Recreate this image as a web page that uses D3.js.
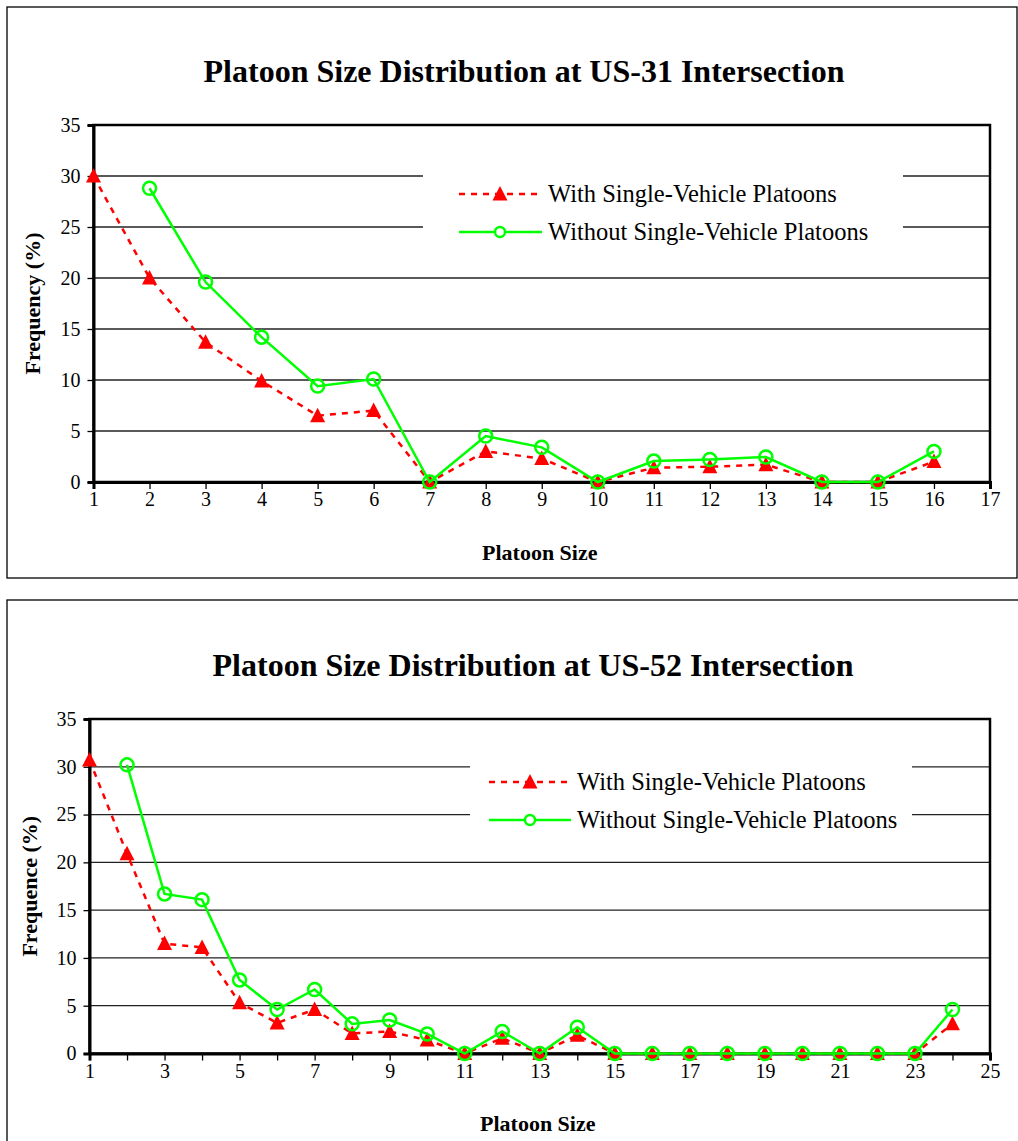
<!DOCTYPE html>
<html>
<head>
<meta charset="utf-8">
<script src="https://cdn.jsdelivr.net/npm/d3@7"></script>
<style>
  html, body { margin: 0; padding: 0; background: #fff; }
  svg { display: block; font-family: "Liberation Serif", "Times New Roman", serif; }
</style>
</head>
<body>
<svg id="chart" width="1018" height="1141"></svg>
<script>
// ---------- DATA ----------
const seriesNames = ["With Single-Vehicle Platoons", "Without Single-Vehicle Platoons"];

// US-31 intersection
const us31Title = "Platoon Size Distribution at US-31 Intersection";
const us31YLabel = "Frequency (%)";
const us31SizesWith = [1, 2, 3, 4, 5, 6, 7, 8, 9, 10, 11, 12, 13, 14, 15, 16];
const us31With = [30.0, 20.0, 13.7, 9.9, 6.5, 7.0, 0, 3.0, 2.3, 0, 1.4, 1.5, 1.7, 0, 0, 2.0];
const us31SizesWithout = [2, 3, 4, 5, 6, 7, 8, 9, 10, 11, 12, 13, 14, 15, 16];
const us31Without = [28.8, 19.6, 14.2, 9.4, 10.1, 0, 4.5, 3.4, 0, 2.05, 2.2, 2.45, 0, 0, 3.0];
const us31XTicks = [1, 2, 3, 4, 5, 6, 7, 8, 9, 10, 11, 12, 13, 14, 15, 16, 17];
const us31XLabels = ["1","2","3","4","5","6","7","8","9","10","11","12","13","14","15","16","17"];

// US-52 intersection
const us52Title = "Platoon Size Distribution at US-52 Intersection";
const us52YLabel = "Frequence (%)";
const us52SizesWith = [1, 2, 3, 4, 5, 6, 7, 8, 9, 10, 11, 12, 13, 14, 15, 16, 17, 18, 19, 20, 21, 22, 23, 24];
const us52With = [30.7, 20.9, 11.5, 11.1, 5.3, 3.2, 4.6, 2.1, 2.3, 1.4, 0, 1.6, 0, 1.9, 0, 0, 0, 0, 0, 0, 0, 0, 0, 3.1];
const us52SizesWithout = [2, 3, 4, 5, 6, 7, 8, 9, 10, 11, 12, 13, 14, 15, 16, 17, 18, 19, 20, 21, 22, 23, 24];
const us52Without = [30.2, 16.7, 16.1, 7.7, 4.6, 6.7, 3.1, 3.5, 2.05, 0, 2.3, 0, 2.75, 0, 0, 0, 0, 0, 0, 0, 0, 0, 4.6];
const us52XTicks = [1, 2, 3, 4, 5, 6, 7, 8, 9, 10, 11, 12, 13, 14, 15, 16, 17, 18, 19, 20, 21, 22, 23, 24, 25];
const us52XLabels = ["1","","3","","5","","7","","9","","11","","13","","15","","17","","19","","21","","23","","25"];

const yTicks = [0, 5, 10, 15, 20, 25, 30, 35];
const xAxisLabel = "Platoon Size";

// ---------- DRAW ----------
const svg = d3.select("#chart");
const RED = "#ff0000", GREEN = "#00ff00";

function drawChart(cfg) {
  const g = svg.append("g");
  // outer frame
  g.append("rect")
    .attr("x", cfg.frame[0]).attr("y", cfg.frame[1])
    .attr("width", cfg.frame[2]).attr("height", cfg.frame[3])
    .attr("fill", "#fff").attr("stroke", "#000").attr("stroke-width", 1.3);

  const x = d3.scaleLinear().domain([cfg.xTicks[0], cfg.xTicks[cfg.xTicks.length - 1]]).range([cfg.left, cfg.right]);
  const y = d3.scaleLinear().domain([0, 35]).range([cfg.bottom, cfg.top]);

  // title
  g.append("text").attr("x", cfg.titleX).attr("y", cfg.titleY)
    .attr("text-anchor", "middle").attr("font-weight", "bold").attr("font-size", 32)
    .text(cfg.title);

  // gridlines (interrupted by legend box)
  const grid = g.append("g");
  yTicks.filter(t => t > 0 && t < 35).forEach(t => {
    const yy = y(t);
    const inLegend = yy > cfg.legend.top && yy < cfg.legend.bottom;
    const segs = inLegend ? [[cfg.left, cfg.legend.left], [cfg.legend.right, cfg.right]] : [[cfg.left, cfg.right]];
    segs.forEach(s => grid.append("line")
      .attr("x1", s[0]).attr("x2", s[1]).attr("y1", yy).attr("y2", yy)
      .attr("stroke", "#222").attr("stroke-width", 1.3));
  });

  // plot border (top / right)
  g.append("rect").attr("x", cfg.left).attr("y", cfg.top)
    .attr("width", cfg.right - cfg.left).attr("height", cfg.bottom - cfg.top)
    .attr("fill", "none").attr("stroke", "#000").attr("stroke-width", 2.5);

  // y axis
  const yAxis = d3.axisLeft(y).tickValues(yTicks).tickSize(6).tickPadding(7).tickFormat(d3.format("d"));
  const ya = g.append("g").attr("transform", `translate(${cfg.left},0)`).call(yAxis);
  ya.select(".domain").attr("stroke-width", 3);
  ya.selectAll(".tick line").attr("stroke-width", 1.3);
  ya.selectAll(".tick text").attr("font-size", 20).attr("font-family", "Liberation Serif").attr("fill", "#000");

  // x axis
  const xAxis = d3.axisBottom(x).tickValues(cfg.xTicks).tickSize(7).tickPadding(3)
    .tickFormat((d, i) => cfg.xLabels[i]);
  const xa = g.append("g").attr("transform", `translate(0,${cfg.bottom})`).call(xAxis);
  xa.select(".domain").attr("stroke-width", 3);
  xa.selectAll(".tick line").attr("stroke-width", 1.3);
  xa.selectAll(".tick text").attr("font-size", 20).attr("font-family", "Liberation Serif").attr("fill", "#000");

  // axis titles
  g.append("text").attr("x", (cfg.left + cfg.right) / 2 - 2).attr("y", cfg.xTitleY)
    .attr("text-anchor", "middle").attr("font-weight", "bold").attr("font-size", 22)
    .text(xAxisLabel);
  g.append("text").attr("transform", `translate(${cfg.yTitleX},${(cfg.top + cfg.bottom) / 2}) rotate(-90)`)
    .attr("text-anchor", "middle").attr("font-weight", "bold").attr("font-size", 22)
    .text(cfg.yLabel);

  // legend
  const lg = g.append("g");
  const L = cfg.legend;
  // with
  lg.append("line").attr("x1", L.lineX1).attr("x2", L.lineX2).attr("y1", L.row1).attr("y2", L.row1)
    .attr("stroke", RED).attr("stroke-width", 2.5).attr("stroke-dasharray", "6,6");
  lg.append("path").attr("d", triPath(L.markX, L.row1)).attr("fill", RED);
  lg.append("text").attr("x", L.textX).attr("y", L.row1 + 8).attr("font-size", 24.5).text(seriesNames[0]);
  // without
  lg.append("line").attr("x1", L.lineX1).attr("x2", L.lineX2).attr("y1", L.row2).attr("y2", L.row2)
    .attr("stroke", GREEN).attr("stroke-width", 2.5);
  lg.append("circle").attr("cx", L.markX).attr("cy", L.row2).attr("r", 5).attr("fill", "#fff")
    .attr("stroke", GREEN).attr("stroke-width", 2.5);
  lg.append("text").attr("x", L.textX).attr("y", L.row2 + 8).attr("font-size", 24.5).text(seriesNames[1]);

  // series
  const withPts = cfg.sizesWith.map((s, i) => [s, cfg.valsWith[i]]);
  const withoutPts = cfg.sizesWithout.map((s, i) => [s, cfg.valsWithout[i]]);
  const line = d3.line().x(d => x(d[0])).y(d => y(d[1]));

  g.append("path").datum(withPts).attr("d", line).attr("fill", "none")
    .attr("stroke", RED).attr("stroke-width", 2.5).attr("stroke-dasharray", "6,6");
  g.append("g").selectAll("path").data(withPts).join("path")
    .attr("d", d => triPath(x(d[0]), y(d[1]))).attr("fill", RED);

  g.append("path").datum(withoutPts).attr("d", line).attr("fill", "none")
    .attr("stroke", GREEN).attr("stroke-width", 2.5);
  g.append("g").selectAll("circle").data(withoutPts).join("circle")
    .attr("cx", d => x(d[0])).attr("cy", d => y(d[1])).attr("r", 6.5)
    .attr("fill", "none").attr("stroke", GREEN).attr("stroke-width", 2.5);
}

function triPath(cx, cy) {
  return `M${cx},${cy - 8}L${cx + 7.5},${cy + 6.5}L${cx - 7.5},${cy + 6.5}Z`;
}

drawChart({
  frame: [7, 7, 1010, 571],
  title: us31Title, titleX: 524, titleY: 82,
  left: 93.5, right: 990, top: 125, bottom: 482,
  xTicks: us31XTicks, xLabels: us31XLabels,
  sizesWith: us31SizesWith, valsWith: us31With,
  sizesWithout: us31SizesWithout, valsWithout: us31Without,
  yLabel: us31YLabel, yTitleX: 40, xTitleY: 560,
  legend: { left: 423, right: 903, top: 155, bottom: 250, lineX1: 459, lineX2: 542, markX: 500, textX: 548, row1: 194, row2: 232 }
});

drawChart({
  frame: [7, 600, 1020, 560],
  title: us52Title, titleX: 533, titleY: 676,
  left: 89.5, right: 990, top: 719, bottom: 1053.5,
  xTicks: us52XTicks, xLabels: us52XLabels,
  sizesWith: us52SizesWith, valsWith: us52With,
  sizesWithout: us52SizesWithout, valsWithout: us52Without,
  yLabel: us52YLabel, yTitleX: 37, xTitleY: 1131,
  legend: { left: 470, right: 912, top: 750, bottom: 840, lineX1: 489, lineX2: 571, markX: 530, textX: 577, row1: 782, row2: 820 }
});
</script>
</body>
</html>
